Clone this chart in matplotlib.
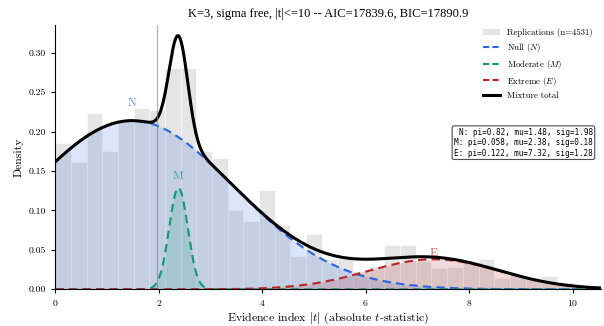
import numpy as np
import matplotlib
matplotlib.use("Agg")
import matplotlib.pyplot as plt
from matplotlib.patches import Patch
from matplotlib.lines import Line2D
from math import erf, sqrt

plt.rcParams.update({
    "font.family": "cmr10",
    "mathtext.fontset": "cm",
    "axes.formatter.use_mathtext": True,
    "axes.unicode_minus": False,
})

# ---------- data ----------

# histogram of replications (density), 33 bins on [0, 10]
bin_lo, bin_hi, n_bins = 0.0, 10.0, 33
hist_density = [
    0.185, 0.161, 0.224, 0.175, 0.212, 0.230, 0.227, 0.281, 0.280, 0.175,
    0.166, 0.100, 0.0865, 0.126, 0.081, 0.042, 0.070, 0.038, 0.039, 0.023,
    0.0295, 0.056, 0.056, 0.036, 0.027, 0.0287, 0.033, 0.039, 0.014, 0.018,
    0.013, 0.017, 0.0097,
]
n_reps = 4531

# fitted mixture components (truncated at 0)
comp_names = ["N", "M", "E"]
comp_labels = ["Null ($N$)", "Moderate ($M$)", "Extreme ($E$)"]
comp_pi = [0.82, 0.058, 0.122]
comp_mu = [1.48, 2.38, 7.32]
comp_sig = [1.98, 0.18, 1.28]
comp_colors = ["#2766e0", "#0f9a72", "#b82525"]

aic, bic = 17839.6, 17890.9
threshold = 1.96


def trunc_pdf(x, mu, sig):
    z = (x - mu) / sig
    pdf = np.exp(-0.5 * z ** 2) / (sig * np.sqrt(2 * np.pi))
    mass = 1.0 - 0.5 * (1 + erf((0 - mu) / (sig * sqrt(2))))
    return pdf / mass


# ---------- plot ----------

fig = plt.figure(figsize=(6.04, 3.26), dpi=100)
ax = fig.add_axes([0.0917, 0.1126, 0.9033, 0.8104])

edges = np.linspace(bin_lo, bin_hi, n_bins + 1)
ax.bar(edges[:-1], hist_density, width=np.diff(edges), align="edge",
       color="#d0d0d0", alpha=0.55, edgecolor="white", linewidth=0.8)

xs = np.linspace(0, 10.55, 1200)
total = np.zeros_like(xs)
for name, pi, mu, sig, col in zip(comp_names, comp_pi, comp_mu, comp_sig, comp_colors):
    y = pi * trunc_pdf(xs, mu, sig)
    total += y
    ax.fill_between(xs, 0, y, color=col, alpha=0.17, linewidth=0)
    ax.plot(xs, y, color=col, lw=1.5, ls=(0, (4, 2.5)))
    peak = y.max()
    ax.text(mu, peak * 1.08 + 0.005, name, color=col, alpha=0.75,
            fontsize=8.5, ha="center", va="center")

ax.plot(xs, total, color="black", lw=2.2)
ax.axvline(threshold, color="gray", lw=0.9, alpha=0.6)

ax.set_xlim(0, 10.55)
ax.set_ylim(0, 0.335)
ax.set_xticks([0, 2, 4, 6, 8, 10])
ax.set_yticks(np.arange(0, 0.31, 0.05))
ax.yaxis.set_major_formatter(matplotlib.ticker.FormatStrFormatter("%.2f"))
ax.tick_params(labelsize=7, length=3)
ax.spines["top"].set_visible(False)
ax.spines["right"].set_visible(False)
ax.set_xlabel("Evidence index $|t|$ (absolute $t$-statistic)", fontsize=8.5, labelpad=2)
ax.set_ylabel("Density", fontsize=8.5, labelpad=4)
ax.set_title(f"K=3, sigma free, |t|<=10 -- AIC={aic}, BIC={bic}",
             fontsize=9, family="Liberation Serif", pad=6)

handles = [Patch(facecolor="#d0d0d0", alpha=0.55, label=f"Replications (n={n_reps})")]
for lab, col in zip(comp_labels, comp_colors):
    handles.append(Line2D([], [], color=col, lw=1.5, ls=(0, (3, 1.5)), label=lab))
handles.append(Line2D([], [], color="black", lw=2.2, label="Mixture total"))
ax.legend(handles=handles, loc="upper right", fontsize=6.3, frameon=False,
          bbox_to_anchor=(1.0, 1.02), handlelength=2.0, labelspacing=0.45)

box = "\n".join(f"{n}: pi={p}, mu={m:.2f}, sig={s:.2f}"
                for n, p, m, s in zip(comp_names, comp_pi, comp_mu, comp_sig))
ax.text(0.985, 0.555, box, transform=ax.transAxes, family="DejaVu Sans Mono",
        fontsize=5.5, ha="right", va="center", multialignment="right",
        bbox=dict(boxstyle="round,pad=0.25", facecolor="white", edgecolor="0.3", lw=0.8))

fig.savefig("out.png", dpi=100)
